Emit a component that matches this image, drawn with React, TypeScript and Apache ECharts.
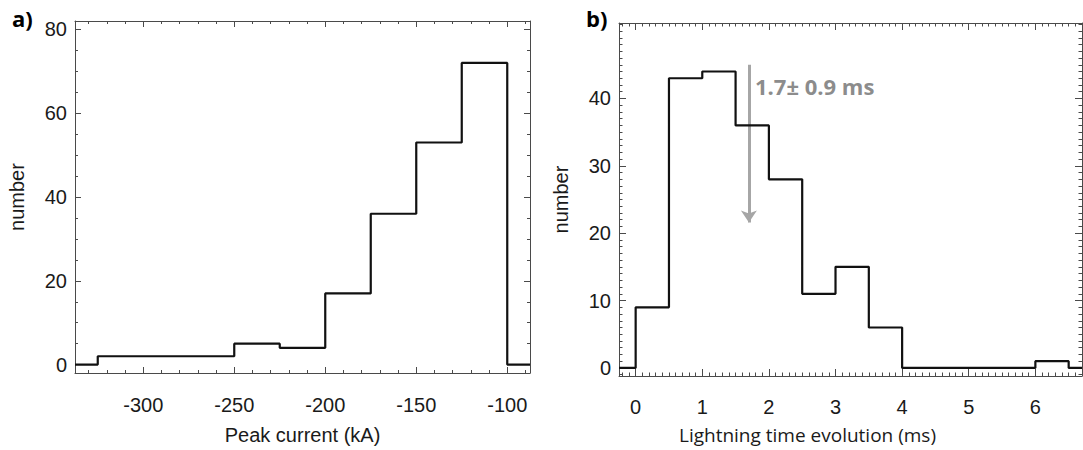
import { useEffect, useRef } from "react";
import * as echarts from "echarts";

// Panel a) peak current histogram (bin left edges, counts; last point closes the step line)
const peakEdges = [-337.5, -325, -300, -275, -250, -225, -200, -175, -150, -125, -100, -87.5];
const peakCounts = [0, 2, 2, 2, 5, 4, 17, 36, 53, 72, 0, 0];
const peakTicks = [-300, -250, -200, -150, -100];
const peakCountTicks = [0, 20, 40, 60, 80];

// Panel b) lightning time evolution histogram
const timeEdges = [-0.25, 0, 0.5, 1, 1.5, 2, 2.5, 3, 3.5, 4, 4.5, 5, 5.5, 6, 6.5, 6.7];
const timeCounts = [0, 9, 43, 44, 36, 28, 11, 15, 6, 0, 0, 0, 0, 1, 0, 0];
const timeTicks = [0, 1, 2, 3, 4, 5, 6];
const timeCountTicks = [0, 10, 20, 30, 40];

// Mean marker
const meanTime = 1.7;
const arrowFrom = 45;
const arrowTo = 21.6;
const meanLabel = "1.7\u00b1 0.9 ms";

const AX = "#4a4a4a";
const TXT = "#1a1a1a";
const ARIAL = "Liberation Sans, Arial, sans-serif";

function minorList(start: number, end: number, step: number, majors: number[], dec: number) {
  const out: number[] = [];
  const n = Math.round((end - start) / step);
  for (let i = 0; i <= n; i++) {
    const v = Math.round((start + i * step) * Math.pow(10, dec)) / Math.pow(10, dec);
    if (!majors.some((m) => Math.abs(m - v) < 1e-9)) out.push(v);
  }
  return out;
}

function axisSet(
  kind: "x" | "y",
  grid: number,
  min: number,
  max: number,
  majors: number[],
  minors: number[],
  majLen: number,
  minLen: number,
  labelMargin: number,
  name: string,
  nameGap: number,
  nameStyle: any
) {
  const posA = kind === "x" ? "bottom" : "left";
  const posB = kind === "x" ? "top" : "right";
  const base = (position: string, line: boolean, ticks: number[], len: number) => ({
    type: "value",
    gridIndex: grid,
    position,
    min,
    max,
    splitLine: { show: false },
    axisLine: { show: line, onZero: false, lineStyle: { color: AX, width: 1 } },
    axisTick: { show: true, inside: true, length: len, customValues: ticks, lineStyle: { color: AX, width: 1 } },
    axisLabel: { show: false },
  });
  const main: any = base(posA, true, majors, majLen);
  main.axisLabel = {
    show: true,
    customValues: majors,
    margin: labelMargin,
    color: TXT,
    fontSize: 20,
    fontFamily: ARIAL,
  };
  main.name = name;
  main.nameLocation = "middle";
  main.nameGap = nameGap;
  main.nameTextStyle = nameStyle;
  return [main, base(posA, false, minors, minLen), base(posB, true, majors, majLen), base(posB, false, minors, minLen)];
}

export default function App() {
  const ref = useRef<HTMLDivElement>(null);
  useEffect(() => {
    if (!ref.current) return;
    const chart = echarts.init(ref.current, undefined, { renderer: "svg" });

    const xA = axisSet("x", 0, -337.5, -87.5, peakTicks, minorList(-330, -90, 10, peakTicks, 0), 6, 3, 22,
      "Peak current (kA)", 52, { color: TXT, fontSize: 20, fontFamily: ARIAL });
    const yA = axisSet("y", 0, -2, 82, peakCountTicks, minorList(5, 80, 5, peakCountTicks, 0), 6, 3, 8,
      "number", 48, { color: TXT, fontSize: 20, fontFamily: ARIAL });
    const xB = axisSet("x", 1, -0.25, 6.7, timeTicks, minorList(-0.2, 6.6, 0.1, timeTicks, 1), 7, 3.5, 21,
      "Lightning time evolution (ms)", 49, { color: TXT, fontSize: 19, fontFamily: "Open Sans, sans-serif", padding: [0, 86, 0, 0] });
    const yB = axisSet("y", 1, -1.2, 51.2, timeCountTicks, minorList(-1, 51, 1, timeCountTicks, 0), 7, 3.5, 8,
      "number", 48, { color: TXT, fontSize: 20, fontFamily: ARIAL });

    chart.setOption({
      animation: false,
      backgroundColor: "#ffffff",
      grid: [
        { left: 75, top: 21, width: 455, height: 353, containLabel: false },
        { left: 619, top: 23, width: 463, height: 353, containLabel: false },
      ],
      xAxis: [...xA, ...xB],
      yAxis: [...yA, ...yB],
      series: [
        {
          type: "line",
          xAxisIndex: 0,
          yAxisIndex: 0,
          step: "end",
          showSymbol: false,
          symbol: "none",
          lineStyle: { color: "#111", width: 2.2 },
          data: peakEdges.map((e, i) => [e, peakCounts[i]]),
          silent: true,
        },
        {
          type: "line",
          xAxisIndex: 4,
          yAxisIndex: 4,
          step: "end",
          showSymbol: false,
          symbol: "none",
          lineStyle: { color: "#111", width: 2.2 },
          data: timeEdges.map((e, i) => [e, timeCounts[i]]),
          silent: true,
        },
        {
          type: "lines",
          coordinateSystem: "cartesian2d",
          xAxisIndex: 4,
          yAxisIndex: 4,
          symbol: ["none", "arrow"],
          symbolSize: 12,
          lineStyle: { color: "#a6a6a6", width: 3, opacity: 1 },
          data: [{ coords: [[meanTime, arrowFrom], [meanTime, arrowTo]] }],
          silent: true,
        },
      ],
      graphic: [
        { type: "text", left: 12, top: 7, style: { text: "a)", fill: "#000", font: "bold 22px 'Open Sans', sans-serif" } },
        { type: "text", left: 586, top: 7, style: { text: "b)", fill: "#000", font: "bold 22px 'Open Sans', sans-serif" } },
        { type: "text", left: 755, top: 75, style: { text: meanLabel, fill: "#8c8c8c", font: "bold 22px 'Open Sans', sans-serif" } },
      ],
    });
    return () => chart.dispose();
  }, []);
  return <div ref={ref} style={{ position: "absolute", left: 0, top: 0, width: 1083, height: 450 }} />;
}
